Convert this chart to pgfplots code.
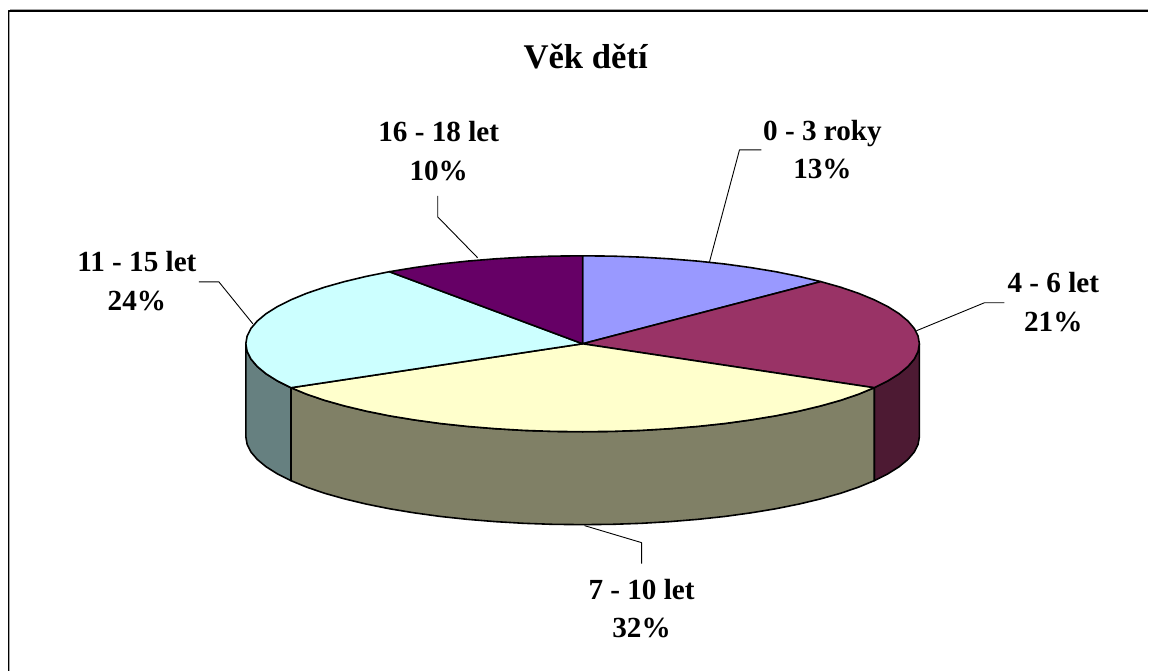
\documentclass[border=0pt]{standalone}
\usepackage{fontspec}
\setmainfont{Liberation Serif}
\usepackage{pgfplots}
\pgfplotsset{compat=1.18}
\definecolor{cA}{HTML}{9999FF}
\definecolor{cB}{HTML}{993366}
\definecolor{cC}{HTML}{FFFFCC}
\definecolor{cD}{HTML}{CCFFFF}
\definecolor{cE}{HTML}{660066}
\definecolor{sB}{HTML}{4D1A33}
\definecolor{sC}{HTML}{808066}
\definecolor{sD}{HTML}{668080}
\newcommand{\lbl}{\fontsize{29.3}{33}\selectfont\bfseries}
\begin{document}
\begin{tikzpicture}
\begin{axis}[
  scale only axis, width=1149bp, height=671bp,
  xmin=0, xmax=1149, ymin=0, ymax=671, y dir=reverse,
  axis lines=none, clip=false,
  every axis plot/.append style={line join=round, line cap=butt, line width=1.6bp},
]
% bounding page
\addplot[draw=none, fill=white] coordinates {(0,0)(1149,0)(1149,671)(0,671)} --cycle;
% frame with its soft grey edge
\addplot[color=black!35, line width=1bp] coordinates {(1149,10)(10,10)};
\addplot[color=black!35, line width=1bp] coordinates {(9.7,671)(9.7,10)};
\addplot[color=black, line width=1.6bp] coordinates {(8.5,671)(8.5,11.3)(1149,11.3)};
% side walls
\addplot[draw=black, fill=sB] coordinates {(874.8,388)(888.4,381.2)(899.7,374.1)(908.5,366.8)(914.9,359.3)(918.7,351.7)(920,344)(920,437)(918.7,444.7)(914.9,452.3)(908.5,459.8)(899.7,467.1)(888.4,474.2)(874.8,481)} --cycle;
\addplot[draw=black, fill=sC] coordinates {(291.2,388)(306.9,394.5)(324.8,400.6)(344.7,406.2)(366.4,411.4)(389.7,416.1)(414.5,420.2)(440.6,423.8)(467.7,426.7)(495.8,429)(524.5,430.7)(553.6,431.7)(583,432)(612.4,431.7)(641.5,430.7)(670.2,429)(698.3,426.7)(725.4,423.8)(751.5,420.2)(776.3,416.1)(799.6,411.4)(821.3,406.2)(841.2,400.6)(859.1,394.5)(874.8,388)(874.8,481)(859.1,487.5)(841.2,493.6)(821.3,499.2)(799.6,504.4)(776.3,509.1)(751.5,513.2)(725.4,516.8)(698.3,519.7)(670.2,522)(641.5,523.7)(612.4,524.7)(583,525)(553.6,524.7)(524.5,523.7)(495.8,522)(467.7,519.7)(440.6,516.8)(414.5,513.2)(389.7,509.1)(366.4,504.4)(344.7,499.2)(324.8,493.6)(306.9,487.5)(291.2,481)} --cycle;
\addplot[draw=black, fill=sD] coordinates {(246,344)(247.3,351.7)(251.1,359.3)(257.5,366.8)(266.3,374.1)(277.6,381.2)(291.2,388)(291.2,481)(277.6,474.2)(266.3,467.1)(257.5,459.8)(251.1,452.3)(247.3,444.7)(246,437)} --cycle;
% top sectors
\addplot[draw=black, fill=cA] coordinates {(583,344)(583,256)(612.4,256.3)(641.5,257.3)(670.2,259)(698.3,261.3)(725.4,264.2)(751.5,267.8)(776.3,271.9)(799.6,276.6)(821.3,281.8)} --cycle;
\addplot[draw=black, fill=cB] coordinates {(583,344)(821.3,281.8)(841.2,287.4)(859.1,293.5)(874.8,300)(888.4,306.8)(899.7,313.9)(908.5,321.2)(914.9,328.7)(918.7,336.3)(920,344)(918.7,351.7)(914.9,359.3)(908.5,366.8)(899.7,374.1)(888.4,381.2)(874.8,388)} --cycle;
\addplot[draw=black, fill=cC] coordinates {(583,344)(874.8,388)(859.1,394.5)(841.2,400.6)(821.3,406.2)(799.6,411.4)(776.3,416.1)(751.5,420.2)(725.4,423.8)(698.3,426.7)(670.2,429)(641.5,430.7)(612.4,431.7)(583,432)(553.6,431.7)(524.5,430.7)(495.8,429)(467.7,426.7)(440.6,423.8)(414.5,420.2)(389.7,416.1)(366.4,411.4)(344.7,406.2)(324.8,400.6)(306.9,394.5)(291.2,388)} --cycle;
\addplot[draw=black, fill=cD] coordinates {(583,344)(291.2,388)(277.6,381.2)(266.3,374.1)(257.5,366.8)(251.1,359.3)(247.3,351.7)(246,344)(247.3,336.3)(251.1,328.7)(257.5,321.2)(266.3,313.9)(277.6,306.8)(291.2,300)(306.9,293.5)(324.8,287.4)(344.7,281.8)(366.4,276.6)(389.7,271.9)} --cycle;
\addplot[draw=black, fill=cE] coordinates {(583,344)(389.7,271.9)(414.5,267.8)(440.6,264.2)(467.7,261.3)(495.8,259)(524.5,257.3)(553.6,256.3)(583,256)} --cycle;
% leaders
\addplot[color=black, line width=0.9bp] coordinates {(710,262)(740,150)(762,150)};
\addplot[color=black, line width=0.9bp] coordinates {(917,331)(985,303)(1005,303)};
\addplot[color=black, line width=0.9bp] coordinates {(585,526)(642,543)(642,564)};
\addplot[color=black, line width=0.9bp] coordinates {(253,324)(219,282)(199,282)};
\addplot[color=black, line width=0.9bp] coordinates {(478,258)(438,217)(438,196)};
% text
\node[anchor=base, font=\fontsize{34.8}{38}\selectfont\bfseries] at (axis cs:586,69) {Věk dětí};
\node[anchor=base, font=\lbl] at (axis cs:823,141) {0 - 3 roky};
\node[anchor=base, font=\lbl] at (axis cs:823,179) {13\%};
\node[anchor=base, font=\lbl] at (axis cs:1054,293) {4 - 6 let};
\node[anchor=base, font=\lbl] at (axis cs:1054,332) {21\%};
\node[anchor=base, font=\lbl] at (axis cs:642,600) {7 - 10 let};
\node[anchor=base, font=\lbl] at (axis cs:642,638) {32\%};
\node[anchor=base, font=\lbl] at (axis cs:137,272) {11 - 15 let};
\node[anchor=base, font=\lbl] at (axis cs:137,311) {24\%};
\node[anchor=base, font=\lbl] at (axis cs:439,142) {16 - 18 let};
\node[anchor=base, font=\lbl] at (axis cs:439,181) {10\%};
\end{axis}
\end{tikzpicture}
\end{document}
